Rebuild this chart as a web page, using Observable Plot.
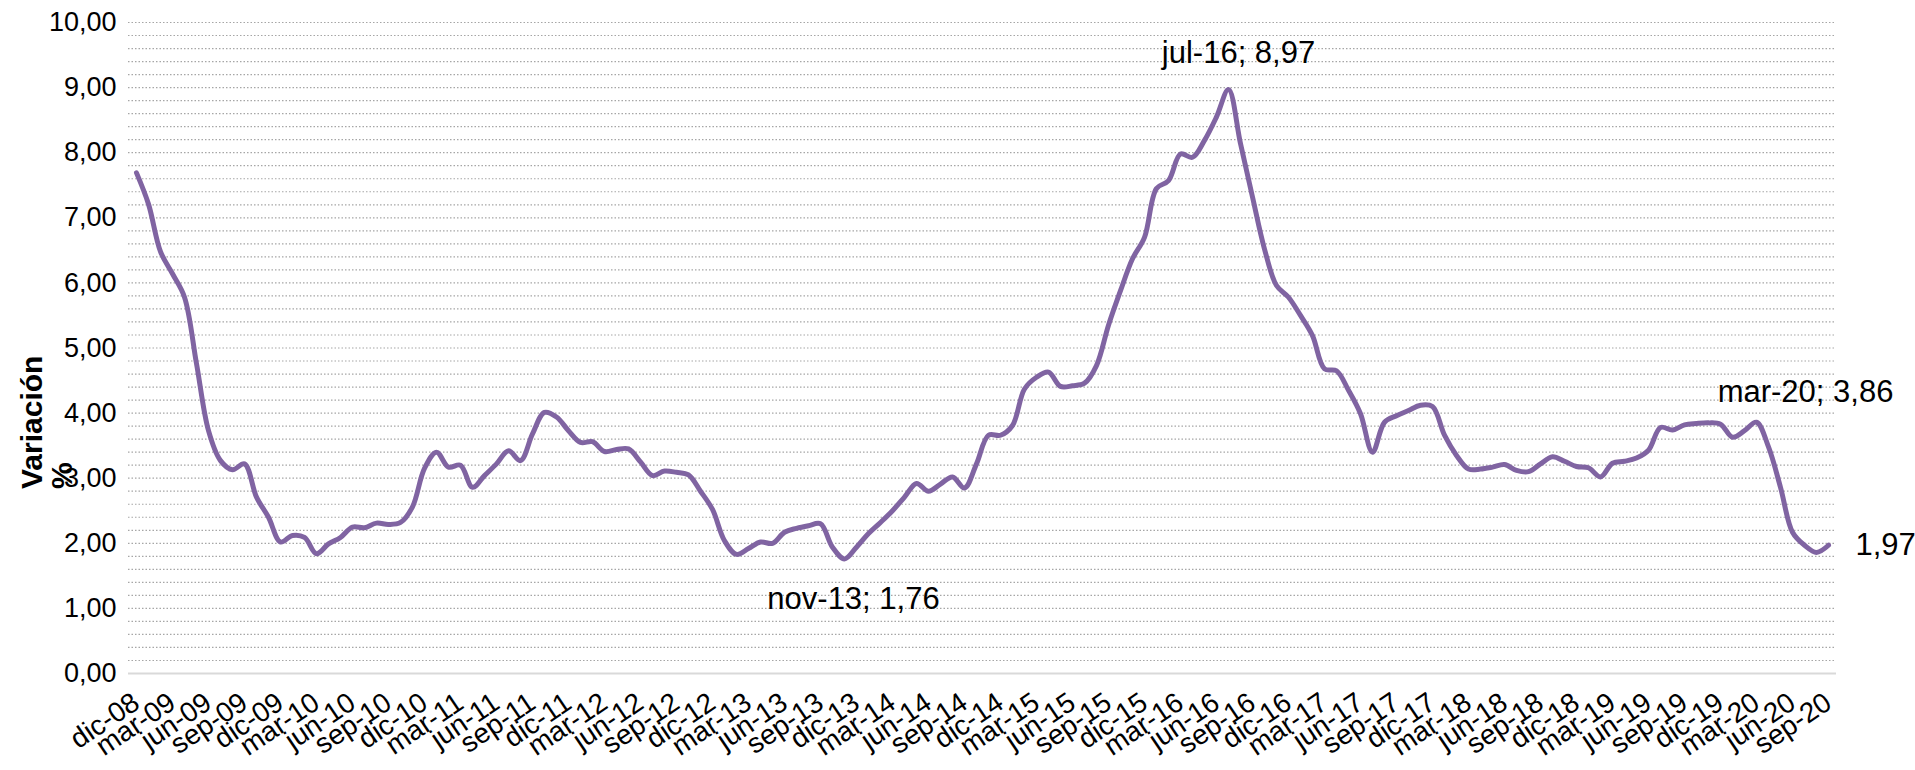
<!DOCTYPE html>
<html><head><meta charset="utf-8">
<script src="https://cdn.jsdelivr.net/npm/d3@7"></script>
<script src="https://cdn.jsdelivr.net/npm/@observablehq/plot@0.6"></script>
<style>
body{margin:0;background:#fff;}
#chart{width:1915px;height:770px;}
</style>
</head><body><div id="chart"></div>
<script>
// Spanish month abbreviations and the series start (dic-08)
const monthNames = ["ene","feb","mar","abr","may","jun","jul","ago","sep","oct","nov","dic"];
const startYear = 2008;
const startMonthIndex = 11;

// Monthly variation (%) from dic-08 to sep-20
const values = [
  7.69, 7.21, 6.48, 6.14, 5.78, 4.76, 3.73, 3.27, 3.13, 3.22, 2.71, 2.40,
  2.02, 2.12, 2.09, 1.84, 1.99, 2.09, 2.25, 2.24, 2.31, 2.29, 2.32, 2.56,
  3.15, 3.40, 3.17, 3.20, 2.86, 3.04, 3.22, 3.42, 3.27, 3.68, 4.01, 3.94,
  3.73, 3.55, 3.56, 3.41, 3.44, 3.45, 3.25, 3.04, 3.11, 3.09, 3.05, 2.80,
  2.52, 2.04, 1.83, 1.92, 2.02, 2.00, 2.17, 2.23, 2.27, 2.30, 1.94, 1.76,
  1.94, 2.15, 2.32, 2.50, 2.71, 2.92, 2.80, 2.91, 3.02, 2.85, 3.22, 3.66,
  3.66, 3.81, 4.37, 4.55, 4.63, 4.41, 4.42, 4.46, 4.73, 5.35, 5.88, 6.37,
  6.70, 7.45, 7.57, 7.98, 7.93, 8.19, 8.55, 8.97, 8.14, 7.32, 6.52, 5.96,
  5.78, 5.50, 5.19, 4.68, 4.65, 4.35, 3.99, 3.40, 3.86, 3.96, 4.04, 4.12,
  4.10, 3.66, 3.35, 3.14, 3.14, 3.17, 3.21, 3.12, 3.10, 3.22, 3.33, 3.26,
  3.18, 3.16, 3.02, 3.23, 3.26, 3.31, 3.43, 3.78, 3.74, 3.82, 3.84, 3.85,
  3.83, 3.63, 3.73, 3.86, 3.48, 2.86, 2.17, 1.97, 1.86, 1.97
];

// Category labels (one per month)
const months = values.map((_, i) => {
  const k = startMonthIndex + i;
  return monthNames[k % 12] + "-" + String((startYear + Math.floor(k / 12)) % 100).padStart(2, "0");
});

// Axis tick labels: every third month
const xTickLabels = months.filter((_, i) => i % 3 === 0);
const yTicks = [0, 1, 2, 3, 4, 5, 6, 7, 8, 9, 10];
const yGrid = [0.2,0.4,0.6,0.8,1,1.2,1.4,1.6,1.8,2,2.2,2.4,2.6,2.8,3,3.2,3.4,3.6,3.8,4,4.2,4.4,4.6,4.8,5,5.2,5.4,5.6,5.8,6,6.2,6.4,6.6,6.8,7,7.2,7.4,7.6,7.8,8,8.2,8.4,8.6,8.8,9,9.2,9.4,9.6,9.8,10];

// Data labels
const annotMonths = ["jul-16", "nov-13", "mar-20", "sep-20"];
const annotValues = [8.97, 1.76, 3.86, 1.97];
const annotTexts = ["jul-16; 8,97", "nov-13; 1,76", "mar-20; 3,86", "1,97"];

const yTitleLines = ["Variación", "%"];

const data = months.map((m, i) => ({month: m, value: values[i]}));
const annots = annotMonths.map((m, i) => ({month: m, value: annotValues[i], text: annotTexts[i]}));

const fmt = d => d.toFixed(2).replace(".", ",");
const FS = 27, FX = 28, FA = 31, FT = 30;

const chart = Plot.plot({
  width: 1915,
  height: 770,
  marginLeft: 128,
  marginRight: 79,
  marginTop: 22,
  marginBottom: 97,
  style: {fontFamily: "'Liberation Sans', Arial, sans-serif", fontSize: FS + "px", color: "#000", background: "#fff"},
  x: {type: "point", domain: months, padding: 0.5},
  y: {domain: [0, 10]},
  marks: [
    Plot.ruleY(yGrid, {stroke: "#a6a6a6", strokeWidth: 1.2, strokeDasharray: "1.5,2"}),
    Plot.ruleY([0], {stroke: "#d9d9d9", strokeWidth: 2}),
    Plot.axisY({ticks: yTicks, tickFormat: fmt, tickSize: 0, tickPadding: 12, label: null, fontSize: FS}),
    Plot.axisX({ticks: xTickLabels, tickSize: 0, tickPadding: 26, tickRotate: -34, label: null, fontSize: FX}),
    Plot.line(data, {x: "month", y: "value", stroke: "#8064a2", strokeWidth: 5, curve: "catmull-rom"}),
    Plot.text(annots.slice(0, 1), {x: "month", y: "value", text: "text", dx: 10, dy: -36, fontSize: FA, fill: "#000"}),
    Plot.text(annots.slice(1, 2), {x: "month", y: "value", text: "text", dx: 9, dy: 40, fontSize: FA, fill: "#000"}),
    Plot.text(annots.slice(2, 3), {x: "month", y: "value", text: "text", dx: 49, dy: -30, fontSize: FA, fill: "#000"}),
    Plot.text(annots.slice(3, 4), {x: "month", y: "value", text: "text", dx: 27, dy: 0, textAnchor: "start", fontSize: FA, fill: "#000"}),
    Plot.text([yTitleLines.join("\n")], {frameAnchor: "left", dx: -81, dy: 141, rotate: -90, fontWeight: "bold", fontSize: FT, fill: "#000", lineHeight: 1.0})
  ]
});
document.getElementById("chart").appendChild(chart);
</script>
</body></html>
